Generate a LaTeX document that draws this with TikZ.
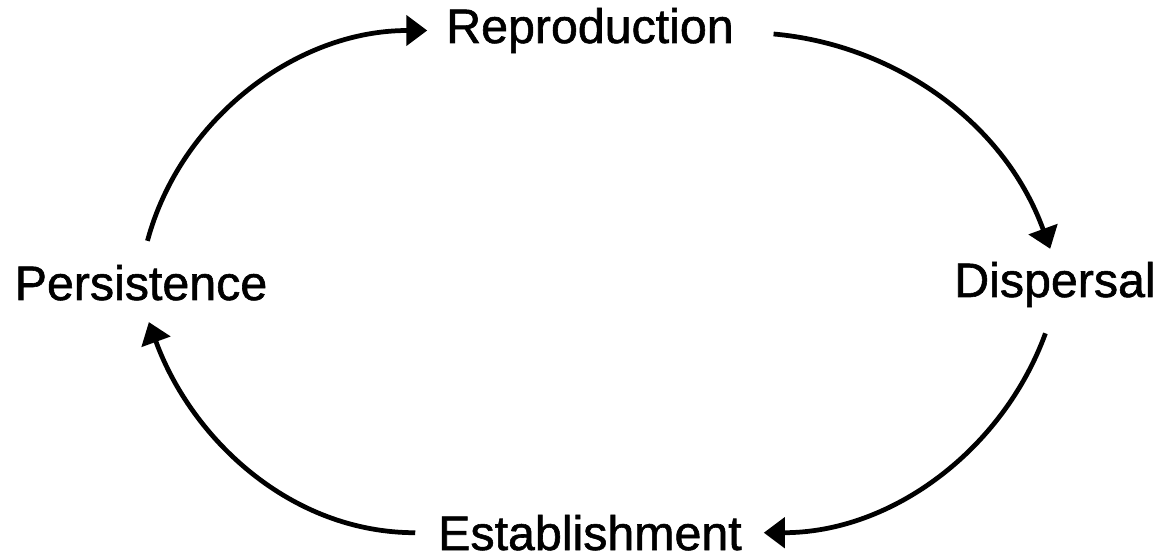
\documentclass[tikz,border=0pt]{standalone}
\usepackage{fontspec}
\setmainfont{Liberation Sans}
\newfontfamily\lblfont{Liberation Sans}[FakeBold=1.2]
\usetikzlibrary{arrows.meta}

\begin{document}
\begin{tikzpicture}[lbl/.style = {anchor=base, inner sep=0pt, outer sep=0pt, font=\lblfont\fontsize{27.5pt}{33pt}\selectfont},
		cyc/.style = {line width=2.7pt, -{Triangle[length=0.42cm, width=0.6cm]}}]
	\useasboundingbox (0,0) rectangle (23.26,-11.18);
	\node[lbl] (repr) at (11.8,-0.86) {Reproduction};
	\node[lbl] (pers) at (2.82,-6.0) {Persistence};
	\node[lbl] (disp) at (21.1,-5.94) {Dispersal};
	\node[lbl] (est) at (11.8,-11.0) {Establishment};
	\draw[cyc, shorten <=0.5cm, shorten >=0.38cm] (pers.north) to[out=75, in=180] (repr.west);
	\draw[cyc, shorten <=0.8cm, shorten >=0.28cm] (repr.east) to[out=-5, in=110] (disp.north);
	\draw[cyc, shorten <=0.56cm, shorten >=0.44cm] (disp.south) to[out=-110, in=0] (est.east);
	\draw[cyc, shorten <=0.46cm, shorten >=0.46cm] (est.west) to[out=180, in=-70] (pers.south);
\end{tikzpicture}
\end{document}
